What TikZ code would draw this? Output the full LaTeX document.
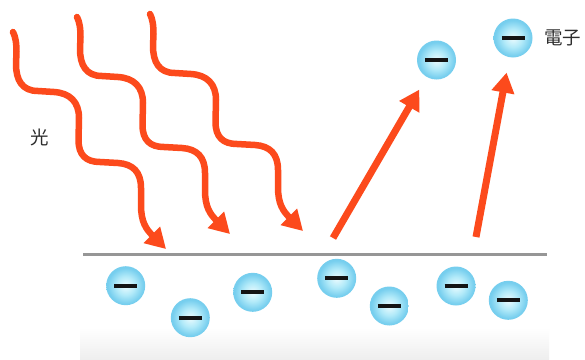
\documentclass[tikz,border=0pt]{standalone}
\usepackage{fontspec}
\newfontfamily\cjk{Noto Sans CJK JP}
\usetikzlibrary{arrows.meta}

\definecolor{photon}{RGB}{252,74,28}
\definecolor{surfacegray}{RGB}{150,150,150}
\definecolor{labeltext}{RGB}{45,45,45}
\definecolor{elecin}{RGB}{236,251,254}
\definecolor{elecmid}{RGB}{178,234,249}
\definecolor{elecout}{RGB}{118,206,238}
\definecolor{metalfloor}{RGB}{238,238,238}

% pale blue ball with a light centre
\pgfdeclareradialshading{electronball}{\pgfpoint{0bp}{0bp}}{%
  color(0bp)=(elecin); color(12bp)=(elecmid); color(23bp)=(elecout); color(25bp)=(elecout); color(50bp)=(elecout)}

\tikzset{
  electron/.style={circle, minimum size=39pt, inner sep=0pt, shade, shading=electronball,
    path picture={\draw[line width=4.2pt, black!92]
      ([xshift=-11.5pt]path picture bounding box.center) --
      ([xshift=11.5pt]path picture bounding box.center);}},
  photon tip/.style={-{Triangle[length=20pt,width=22pt]}},
  wave/.style={photon, line width=6.5pt, line cap=round, line join=round, photon tip},
  emission/.style={photon, line width=7pt, photon tip},
  surface/.style={surfacegray, line width=2.8pt},
  caption/.style={font=\cjk\fontsize{18.5}{20}\selectfont, text=labeltext, inner sep=0pt},
}

\begin{document}
\begin{tikzpicture}[x=1pt, y=-1pt]
  \useasboundingbox (0,0) rectangle (585,359);
  \fill[white] (0,0) rectangle (585,359);

  % metal body below the surface
  \shade[top color=white, bottom color=metalfloor] (80,328) rectangle (549,359);
  \coordinate (surfL) at (83,254.5);
  \coordinate (surfR) at (547,254.5);
  \draw[surface] (surfL) -- (surfR);

  % incoming light, three wavy rays
  \foreach \dx/\dy in {0/0, 64/-15, 137/-18}{
    \draw[wave, shift={(\dx,\dy)}]
      (13,32) .. controls (15.5,37) and (16.5,43) .. (16.5,52)
      -- (16,64)
      .. controls (16,80) and (22,91) .. (38,91)
      -- (54,92)
      .. controls (70,93) and (79,102) .. (79,118)
      -- (78.5,140)
      .. controls (78.5,155) and (86,162) .. (100,162)
      -- (118,163)
      .. controls (133,164) and (141,172) .. (141,188)
      -- (141,205)
      .. controls (141,222) and (146,229) .. (166,249);
  }

  % electrons inside the metal
  \node[electron] (e1) at (125.7,285.7) {};
  \node[electron] (e2) at (190.3,317.7) {};
  \node[electron] (e3) at (252.7,292.3) {};
  \node[electron] (e4) at (336.7,278.3) {};
  \node[electron] (e5) at (389.3,306) {};
  \node[electron] (e6) at (456,286) {};
  \node[electron] (e7) at (508.3,300.3) {};

  % emitted electrons
  \node[electron] (ea) at (436.5,60) {};
  \node[electron] (eb) at (513,38) {};

  \coordinate (emit1) at (333,238);
  \coordinate (emit2) at (476,237);
  \draw[emission, shorten >=14.5pt] (emit1) -- (ea);
  \draw[emission, shorten >=15.5pt] (emit2) -- (eb);

  % labels
  \node[caption] (light) at (40,137) {光};
  \node[caption] (elabel) at (562.5,38) {電子};
\end{tikzpicture}
\end{document}
